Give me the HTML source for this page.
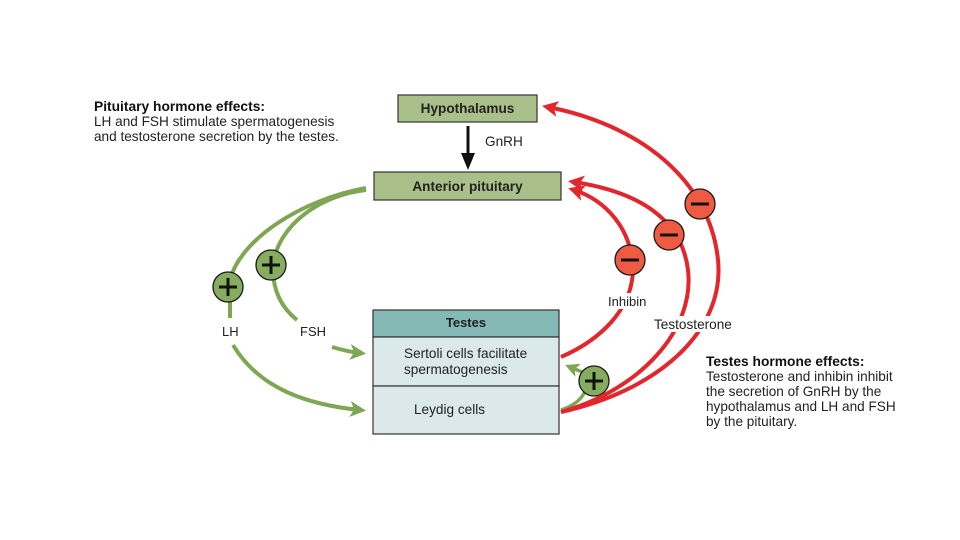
<!DOCTYPE html>
<html><head><style>
html,body{margin:0;padding:0;background:#fff;}
svg{display:block;font-family:"Liberation Sans",Arial,sans-serif;}
</style></head><body>
<svg width="960" height="540" viewBox="0 0 960 540">
<defs>
<marker id="ga" markerWidth="4" markerHeight="4" refX="2.5" refY="2" orient="auto" markerUnits="strokeWidth"><path d="M0,0 L4,2 L0,4 L1,2z" fill="#7fa653"/></marker>
<marker id="ra" markerWidth="4" markerHeight="4" refX="2.5" refY="2" orient="auto" markerUnits="strokeWidth"><path d="M0,0 L4,2 L0,4 L1,2z" fill="#e3262c"/></marker>
</defs>
<text x="94" y="111" font-size="13.8" font-weight="bold" fill="#111">Pituitary hormone effects:</text>
<text x="94" y="126" font-size="13.6" fill="#222">LH and FSH stimulate spermatogenesis</text>
<text x="94" y="141" font-size="13.6" fill="#222">and testosterone secretion by the testes.</text>
<text x="706" y="366" font-size="13.8" font-weight="bold" fill="#111">Testes hormone effects:</text>
<text x="706" y="381" font-size="13.6" fill="#222">Testosterone and inhibin inhibit</text>
<text x="706" y="396" font-size="13.6" fill="#222">the secretion of GnRH by the</text>
<text x="706" y="411" font-size="13.6" fill="#222">hypothalamus and LH and FSH</text>
<text x="706" y="426" font-size="13.6" fill="#222">by the pituitary.</text>
<rect x="398" y="95" width="139" height="27" fill="#a9c08a" stroke="#333" stroke-width="1.2"/>
<text x="467.5" y="113" font-size="13.6" font-weight="bold" text-anchor="middle" fill="#222">Hypothalamus</text>
<rect x="374" y="172" width="187" height="28" fill="#a9c08a" stroke="#333" stroke-width="1.2"/>
<text x="467.5" y="191" font-size="13.6" font-weight="bold" text-anchor="middle" fill="#222">Anterior pituitary</text>
<rect x="373" y="310" width="186" height="27" fill="#84b9b6" stroke="#333" stroke-width="1.2"/>
<text x="466" y="327" font-size="13" font-weight="bold" text-anchor="middle" fill="#222">Testes</text>
<rect x="373" y="337" width="186" height="49" fill="#dbe9ea" stroke="#333" stroke-width="1.2"/>
<text x="404" y="358" font-size="13.6" fill="#222">Sertoli cells facilitate</text>
<text x="404" y="374" font-size="13.6" fill="#222">spermatogenesis</text>
<rect x="373" y="386" width="186" height="48" fill="#dbe9ea" stroke="#333" stroke-width="1.2"/>
<text x="414" y="414" font-size="13.6" fill="#222">Leydig cells</text>
<line x1="468" y1="126" x2="468" y2="157" stroke="#111" stroke-width="3"/>
<path d="M461,153 L468,170 L475,153z" fill="#111"/>
<text x="485" y="146" font-size="13.6" fill="#222">GnRH</text>
<g fill="none" stroke="#7fa653" stroke-width="4">
<path d="M366,188 C300,200 240,240 230,280 L230,318"/>
<path d="M366,190 C320,195 278,225 273,265 C272,290 282,308 297,320"/>
<path d="M233,345 C260,390 310,405 360,410" marker-end="url(#ga)"/>
<path d="M332,347 C342,350 350,352 360,353" marker-end="url(#ga)"/>
<path d="M561,410 C585,402 592,385 582,372" stroke-width="3.5"/>
<path d="M582,372 L570,367" marker-end="url(#ga)" stroke-width="3.5"/>
</g>
<g stroke="#1a1a1a" stroke-width="1.3" fill="#86ad5f">
<circle cx="228" cy="287" r="15"/><circle cx="271" cy="265" r="15"/><circle cx="594" cy="381" r="15"/>
</g>
<g stroke="#111" stroke-width="3">
<path d="M219,287h18M228,278v18M262,265h18M271,256v18M585,381h18M594,372v18"/>
</g>
<text x="222" y="336" font-size="13" fill="#222">LH</text>
<text x="300" y="336" font-size="13" fill="#222">FSH</text>
<g fill="none" stroke="#e3262c" stroke-width="4">
<path d="M561,412 C660,390 725,330 718,260 C710,180 640,125 548,107" marker-end="url(#ra)"/>
<path d="M561,412 C640,390 695,330 688,270 C682,220 640,192 574,182" marker-end="url(#ra)"/>
<path d="M561,357 C600,340 632,310 633,270 C632,228 605,200 574,190" marker-end="url(#ra)"/>
</g>
<g stroke="#1a1a1a" stroke-width="1.3" fill="#ef5a43">
<circle cx="700" cy="204" r="15"/><circle cx="669" cy="235" r="15"/><circle cx="630" cy="260" r="15"/>
</g>
<g stroke="#111" stroke-width="3">
<path d="M691,204h18M660,235h18M621,260h18"/>
</g>
<rect x="606" y="293" width="48" height="16" fill="#fff"/>
<text x="608" y="306" font-size="13" fill="#222">Inhibin</text>
<rect x="652" y="316" width="82" height="16" fill="#fff"/>
<text x="654" y="329" font-size="13.6" fill="#222">Testosterone</text>
</svg>
</body></html>
